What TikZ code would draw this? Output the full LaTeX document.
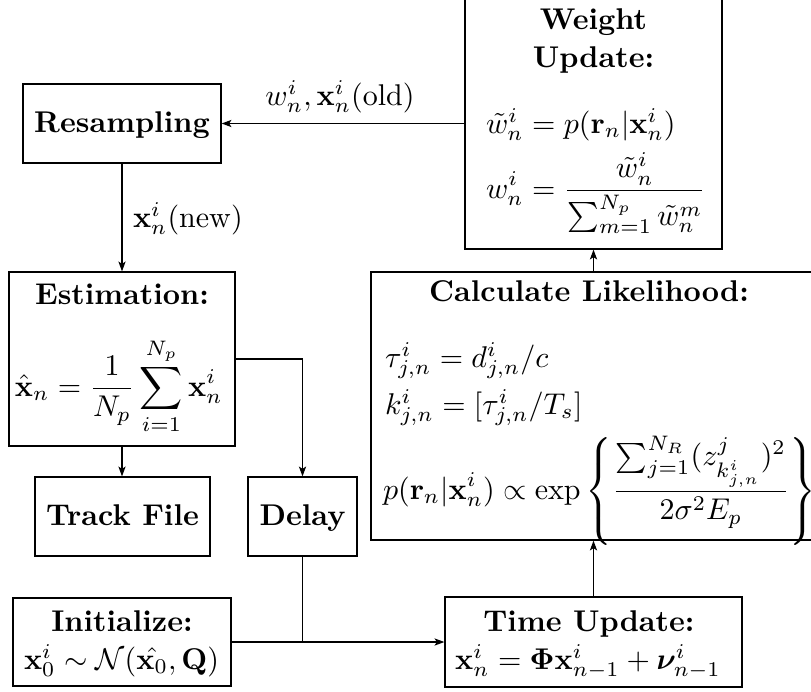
\documentclass[tikz,border=0pt]{standalone}
\usepackage{amsmath,amssymb,bm}
\usetikzlibrary{arrows.meta}
\begin{document}
\begin{tikzpicture}[x=0.333333pt,y=-0.333333pt,
  box/.style={draw,rectangle,inner sep=0pt,line width=0.4pt},
  txt/.style={inner sep=0pt,outer sep=0pt},
  conn/.style={line width=0.4pt},
  arr/.style={conn,-{Stealth[length=3.3pt,width=2.4pt,inset=0.8pt]}}]
\useasboundingbox (0,0) rectangle (811,691);

% boxes
\node[box,minimum width=85.67pt,minimum height=83.33pt] (weight) at (593.5,124) {};
\node[box,minimum width=66pt,minimum height=26.33pt] (resamp) at (122,123.5) {};
\node[box,minimum width=75.33pt,minimum height=58pt] (estim) at (122,359) {};
\node[box,minimum width=58.33pt,minimum height=26.33pt] (track) at (122.5,516.5) {};
\node[box,minimum width=36.33pt,minimum height=26.33pt] (delay) at (302.5,516.5) {};
\node[box,minimum width=72.67pt,minimum height=29.33pt] (init) at (122,642) {};
\node[box,minimum width=99pt,minimum height=30pt] (tu) at (593.5,642) {};
\node[box,minimum width=146.83pt,minimum height=89.33pt] (lik) at (591.25,406) {};

% texts
\node[txt,anchor=base] (wt1) at (593.5,29) {\textbf{Weight}};
\node[txt,anchor=base] (wt2) at (593.5,67) {\textbf{Update:}};
\node[txt,anchor=base west] (wt3) at (486,133) {$\tilde{w}_n^i = p(\mathbf{r}_n|\mathbf{x}_n^i)$};
\node[txt,anchor=base west] (wt4) at (486,198) {$\displaystyle w_n^i = \frac{\tilde{w}_n^i}{\sum_{m=1}^{N_p}\tilde{w}_n^m}$};

\node[txt,anchor=base] (rs) at (122,132) {\textbf{Resampling}};
\node[txt,anchor=base] (oldl) at (340,105) {$w_n^i, \mathbf{x}_n^i(\mathrm{old})$};
\node[txt,anchor=base west] (newl) at (133,227) {$\mathbf{x}_n^i(\mathrm{new})$};

\node[txt,anchor=base] (es1) at (122,304) {\textbf{Estimation:}};
\node[txt,anchor=base west] (es2) at (15,396) {$\displaystyle \hat{\mathbf{x}}_n = \frac{1}{N_p}\sum_{i=1}^{N_p}\mathbf{x}_n^i$};

\node[txt,anchor=base] (lk1) at (589,301) {\textbf{Calculate Likelihood:}};
\node[txt,anchor=base west] (lk2) at (385,367) {$\tau^i_{j,n} = d^i_{j,n}/c$};
\node[txt,anchor=base west] (lk3) at (385,414) {$k^i_{j,n} = [\tau^i_{j,n}/T_s]$};
\node[txt,anchor=base west] (lk4) at (383,499) {$\displaystyle p(\mathbf{r}_n|\mathbf{x}_n^i) \propto \exp\left\{\frac{\sum_{j=1}^{N_R}(z^j_{k^i_{j,n}})^2}{2\sigma^2E_p}\right\}$};

\node[txt,anchor=base] (tf) at (122.5,525) {\textbf{Track File}};
\node[txt,anchor=base] (dl) at (302.5,525) {\textbf{Delay}};

\node[txt,anchor=base] (in1) at (122,631) {\textbf{Initialize:}};
\node[txt,anchor=base] (in2) at (121.5,669) {$\mathbf{x}_0^i \sim \mathcal{N}(\hat{\mathbf{x}_0}, \mathbf{Q})$};
\node[txt,anchor=base] (tu1) at (589,631) {\textbf{Time Update:}};
\node[txt,anchor=base] (tu2) at (588,669) {$\mathbf{x}_n^i = \mathbf{\Phi}\mathbf{x}_{n-1}^i + \boldsymbol{\nu}_{n-1}^i$};

% connectors
\draw[arr] (weight.west |- resamp.east) -- (resamp.east);
\draw[arr] (resamp.south) -- (resamp.south |- estim.north);
\draw[arr] (estim.east) -| (delay.north);
\draw[arr] (estim.south) -- (estim.south |- track.north);
\coordinate (junc) at (delay.south |- init.east);
\draw[conn] (delay.south) -- (junc);
\draw[arr] (init.east) -- (tu.west |- init.east);
\draw[arr] (tu.north) -- (tu.north |- lik.south);
\draw[arr] (weight.south |- lik.north) -- (weight.south);
\end{tikzpicture}
\end{document}
